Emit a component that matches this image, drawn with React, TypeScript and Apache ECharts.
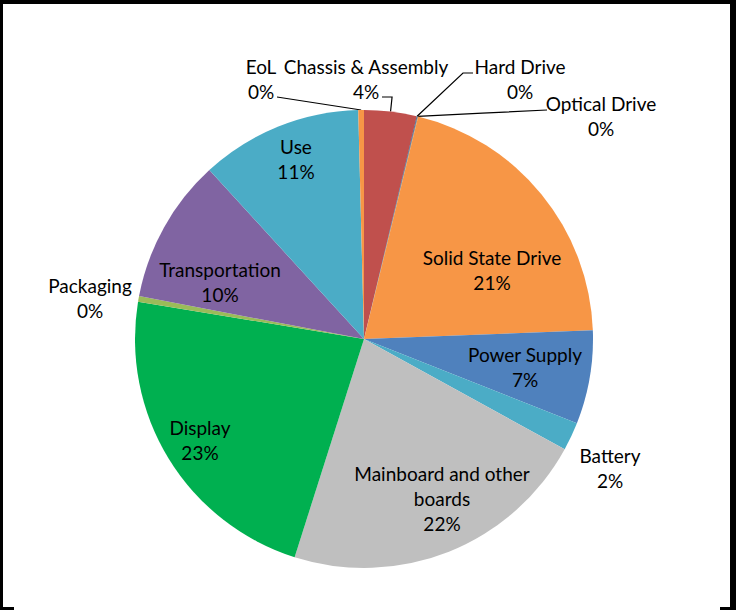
import React, { useEffect, useRef } from "react";
import * as echarts from "echarts";

const CATEGORIES = [
  "Chassis & Assembly",
  "Hard Drive",
  "Optical Drive",
  "Solid State Drive",
  "Power Supply",
  "Battery",
  "Mainboard and other boards",
  "Display",
  "Packaging",
  "Transportation",
  "Use",
  "EoL",
];
const VALUES = [3.7, 0.05, 0.05, 20.6, 6.6, 2.0, 21.9, 22.7, 0.4, 10.2, 11.4, 0.4];
const COLORS = [
  "#C0504D",
  "#1F497D",
  "#7F7F7F",
  "#F79646",
  "#4F81BD",
  "#4BACC6",
  "#BFBFBF",
  "#00B050",
  "#9BBB59",
  "#8064A2",
  "#4BACC6",
  "#F79646",
];

// label block centres (styling, in px)
const LABEL_POS: number[][] = [
  [366, 79],
  [520, 79],
  [601, 116],
  [492, 270],
  [525, 367],
  [610, 468],
  [442, 498],
  [200, 440],
  [90, 298],
  [220, 282],
  [296, 159],
  [261, 79],
];
const WITH_LEADER = [0, 1, 2, 11];
const OUTSIDE = [0, 1, 2, 5, 8, 11];

const CX = 364;
const CY = 339;
const R = 229;

export default function App() {
  const ref = useRef<HTMLDivElement>(null);
  useEffect(() => {
    if (!ref.current) return;
    const chart = echarts.init(ref.current, null, { renderer: "svg" });
    const total = VALUES.reduce((a, b) => a + b, 0);
    const edge = (i: number) => {
      let cum = 0;
      for (let k = 0; k < i; k++) cum += VALUES[k];
      const a = ((cum + VALUES[i] / 2) / total) * Math.PI * 2;
      return [CX + R * Math.sin(a), CY - R * Math.cos(a)];
    };
    const leaders: Record<number, number[][]> = {};
    {
      const e0 = edge(0);
      leaders[0] = [e0, [e0[0] + 1.5, 97], [382, 97]];
      const e1 = edge(1);
      leaders[1] = [e1, [463, 73], [473, 73]];
      const e2 = edge(2);
      leaders[2] = [e2, [(e2[0] + 547) / 2, (e2[1] + 110) / 2], [547, 110]];
      const e11 = edge(11);
      leaders[11] = [e11, [(e11[0] + 277) / 2, (e11[1] + 97) / 2], [277, 97]];
    }
    const textStyle = {
      fontFamily: "Lato",
      fontSize: 19,
      color: "#000",
      lineHeight: 25,
    };
    chart.setOption({
      animation: false,
      backgroundColor: "#fff",
      graphic: [
        { type: "rect", shape: { x: 0, y: 0, width: 736, height: 4 }, style: { fill: "#000" } },
        { type: "rect", shape: { x: 0, y: 0, width: 3, height: 610 }, style: { fill: "#000" } },
        { type: "rect", shape: { x: 730, y: 0, width: 6, height: 610 }, style: { fill: "#000" } },
        { type: "rect", shape: { x: 0, y: 607, width: 14, height: 3 }, style: { fill: "#000" } },
        { type: "rect", shape: { x: 720, y: 607, width: 16, height: 3 }, style: { fill: "#000" } },
      ],
      series: [
        {
          type: "pie",
          center: [CX, CY],
          radius: R,
          startAngle: 90,
          clockwise: true,
          avoidLabelOverlap: false,
          minShowLabelAngle: 0,
          itemStyle: { borderWidth: 0 },
          emphasis: { disabled: true },
          labelLine: { show: false, lineStyle: { color: "#000", width: 1.2 } },
          label: {
            ...textStyle,
            align: "center",
            formatter: (p: any) =>
              p.name.replace("other boards", "other\nboards") +
              "\n" +
              Math.round(p.percent) +
              "%",
          },
          labelLayout: (p: any) => {
            const i = p.dataIndex;
            const res: any = {
              x: LABEL_POS[i][0],
              y: LABEL_POS[i][1],
              align: "center",
              verticalAlign: "middle",
            };
            if (leaders[i]) res.labelLinePoints = leaders[i];
            return res;
          },
          data: CATEGORIES.map((name, i) => ({
            name,
            value: VALUES[i],
            itemStyle: { color: COLORS[i] },
            label: {
              position: OUTSIDE.includes(i) ? "outside" : "inside",
              ...textStyle,
            },
            labelLine: {
              show: WITH_LEADER.includes(i),
              length: 10,
              length2: 10,
              lineStyle: { color: "#000", width: 1.2 },
            },
          })),
        },
      ],
    });
    return () => chart.dispose();
  }, []);
  return (
    <div
      ref={ref}
      style={{ position: "fixed", left: 0, top: 0, width: 741, height: 610, background: "#fff" }}
    />
  );
}
